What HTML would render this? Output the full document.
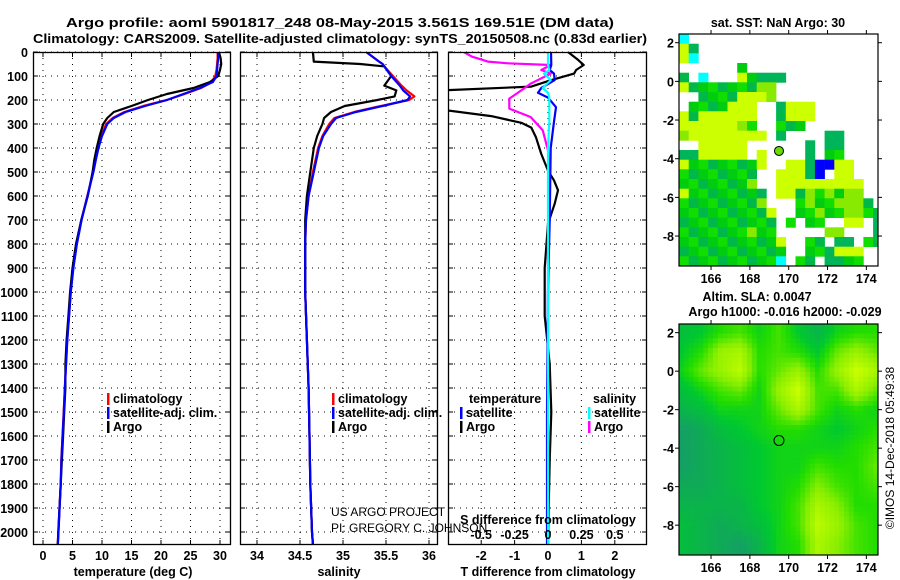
<!DOCTYPE html>
<html><head><meta charset="utf-8">
<style>
html,body{margin:0;padding:0;background:#fff;}
svg{display:block;font-family:"Liberation Sans",Arial,sans-serif;}
.b{font-weight:bold;font-size:13px;}
.t{font-weight:bold;font-size:12.5px;}
</style></head>
<body>
<svg id="fig" width="900" height="580" viewBox="0 0 900 580" xmlns="http://www.w3.org/2000/svg">
<rect x="0" y="0" width="900" height="580" fill="#fff"/>
<text class="b" x="340" y="27" text-anchor="middle" font-size="14" textLength="548" lengthAdjust="spacingAndGlyphs">Argo profile: aoml 5901817_248 08-May-2015 3.561S 169.51E (DM data)</text>
<text class="b" x="340" y="43" text-anchor="middle" font-size="14" textLength="614" lengthAdjust="spacingAndGlyphs">Climatology: CARS2009. Satellite-adjusted climatology: synTS_20150508.nc (0.83d earlier)</text>
<g id="g"></g>
</svg>
<script>
// ---------- profile data ----------
const depthT = [0,25,50,75,100,125,150,175,200,225,250,275,300,350,400,450,500,600,700,800,900,1000,1100,1200,1300,1400,1500,1600,1700,1800,1900,2000,2050];
const climTemp = [29.6,29.6,29.5,29.4,29.2,28.6,26.8,24,21,17,13.8,11.8,10.7,9.9,9.3,8.9,8.5,7.5,6.5,5.7,5.1,4.7,4.4,4.1,3.9,3.7,3.5,3.3,3.1,3.0,2.8,2.6,2.5];
const satTemp  = [29.7,29.7,29.6,29.5,29.4,28.8,26.6,23.8,21,17.3,14.0,12.0,10.9,10.0,9.4,8.95,8.55,7.55,6.55,5.75,5.15,4.72,4.42,4.12,3.92,3.72,3.52,3.32,3.12,3.02,2.82,2.62,2.52];
const argoTemp = [29.8,30.1,30.2,30.0,29.7,28.3,25.5,21,17.8,15,12,10.9,10.2,9.6,9.1,8.7,8.4,7.6,6.5,5.6,5.0,4.6,4.3,4.0,3.8,3.8,3.6,3.4,3.2,3.0,2.8,2.6,2.5];

const depthS = [0,40,50,60,100,140,160,185,200,225,250,275,300,350,400,500,600,700,800,1000,1200,1400,1600,1800,2000,2050];
const climSal = [35.27,35.42,35.46,35.48,35.58,35.68,35.74,35.83,35.77,35.44,35.13,34.9,34.84,34.76,34.71,34.65,34.6,34.57,34.56,34.56,34.58,34.6,34.61,34.62,34.64,34.65];
const satSal  = [35.27,35.42,35.46,35.48,35.56,35.66,35.70,35.78,35.75,35.46,35.15,34.92,34.86,34.77,34.72,34.66,34.6,34.57,34.56,34.56,34.58,34.6,34.61,34.62,34.64,34.65];
const argoSal = [34.65,34.66,35.2,35.48,35.56,35.48,35.62,35.6,35.4,35.02,34.86,34.78,34.76,34.7,34.66,34.62,34.58,34.56,34.56,34.56,34.58,34.6,34.61,34.62,34.64,34.65];

const depthTD = [0,33,54,75,90,117,144,160,175,210,240,267,295,315,356,425,494,535,576,632,715,900,1100,1300,1500,1700,1900,2050];
const argoTdiff = [0.6,0.9,1.07,0.84,0.78,0.1,-0.5,-3.2,-3.5,-3.5,-3.2,-1.7,-0.8,-0.5,-0.36,-0.2,0,0.18,0.3,0.2,0,-0.1,-0.1,0.05,0.1,0.05,0.02,0];
const depthSD = [0,19,40,47,54,75,90,132,160,194,236,271,326,410,535,800,1200,1600,2050];
const argoSdiff = [-0.63,-0.57,-0.45,-0.3,0.02,-0.05,0.02,-0.13,-0.2,-0.29,-0.29,-0.13,-0.04,0,0.01,0,0,0,0];
const depthSat = [0,54,75,90,117,150,170,190,230,290,400,700,1000,1500,2050];
const satTdiff = [0.09,0.1,0.05,0.18,0.2,-0.2,-0.3,0,0.24,0.18,0.08,0.05,0,-0.03,-0.03];
const satSdiff = [0,0,0.01,-0.03,0.02,-0.04,0,0.01,0.01,0.01,0.0,0.0,0.0,0.0,0.0];

const depthTicks = [0,100,200,300,400,500,600,700,800,900,1000,1100,1200,1300,1400,1500,1600,1700,1800,1900,2000];
const tempTicks = [0,5,10,15,20,25,30];
const salTicks = [34,34.5,35,35.5,36];
const tdTicks = [-2,-1,0,1,2];
const sdTicks = [-0.5,-0.25,0,0.25,0.5];

// ---------- map data ----------
const lonTicks = [166,168,170,172,174];
const latTicks = [2,0,-2,-4,-6,-8];
const argoLon = 169.5, argoLat = -3.6;
const sstRows = [
"e....................",
"ca...................",
"ce...................",
"......b..............",
"b.e...cbaaa..........",
"cbbbbbbbdd...........",
"..bbbbcccd...........",
".bbbbccc..accc.......",
"cbcccccc..bccc.......",
"ccccccdb..bbb........",
"dcccccccc.a....aa....",
"..ccccc......a.aa....",
"aaccccc.c....a.bb....",
"cbbbbbbbc..ccaffcc...",
"bbbbbbbb..cccaf.cc...",
"bbbbbbbd..ccccccccc..",
"cbbbbbbba.ccbdbdbdd..",
"bbbbbbbbd...bdbbdddb.",
"bbbbbbbbbc..bbdbbddbb",
"bbbbbbbbbb.b.bb..cc.a",
"bbbbbbbdbb.....dd...a",
"bbbbbbbbbbc..bb.aa.bb",
"bbbbbbbbbbb..bbaccc..",
"bbbbbbbbbbe.bb.aabb.."];
const sstColors = {a:"#00b45a",b:"#00cc10",c:"#ccff00",d:"#88ea00",e:"#00ffff",f:"#0000ff"};
const greenShades = ["#00cc10","#00b84a","#10dd00"];
const slaGrid = [
[0.35,0.4,0.5,0.55,0.45,0.55,0.4,0.3,0.45,0.5,0.5],
[0.4,0.5,0.7,0.75,0.5,0.55,0.5,0.4,0.6,0.7,0.6],
[0.45,0.6,0.7,0.8,0.5,0.6,0.7,0.5,0.7,0.85,0.75],
[0.35,0.45,0.55,0.6,0.45,0.7,0.85,0.55,0.55,0.75,0.6],
[0.3,0.35,0.45,0.45,0.45,0.6,0.75,0.55,0.45,0.5,0.45],
[0.2,0.25,0.35,0.4,0.45,0.5,0.5,0.45,0.4,0.45,0.5],
[0.2,0.25,0.3,0.35,0.4,0.45,0.45,0.45,0.45,0.5,0.55],
[0.2,0.25,0.3,0.35,0.4,0.45,0.45,0.55,0.5,0.5,0.6],
[0.25,0.25,0.3,0.35,0.4,0.45,0.5,0.65,0.55,0.5,0.55],
[0.3,0.3,0.3,0.3,0.4,0.45,0.55,0.75,0.65,0.5,0.5],
[0.35,0.3,0.25,0.3,0.35,0.45,0.55,0.8,0.7,0.55,0.5],
[0.35,0.3,0.25,0.2,0.3,0.45,0.5,0.75,0.65,0.55,0.5]];

// ---------- helpers ----------
const NS = "http://www.w3.org/2000/svg";
const G = document.getElementById("g");
function mk(tag, attrs, parent){ const e=document.createElementNS(NS,tag); for(const k in attrs) e.setAttribute(k,attrs[k]); (parent||G).appendChild(e); return e; }
function txt(s, x, y, cls, anchor, parent){ const e=mk("text",{x:x,y:y,"class":cls,"text-anchor":anchor||"start"},parent); e.textContent=s; return e; }

const Y0=52, Y1=545;
const yD = d => Y0 + d*0.24;
const xT = t => 43 + t*5.9;
const xS = s => 257 + (s-34)*86;
const xDT = v => 548 + v*33.4;
const xDS = v => 548 + v*133.6;

const panels = [
  {name:"temperature-panel", x0:33, x1:231, vx: tempTicks.map(xT)},
  {name:"salinity-panel", x0:240, x1:438, vx: salTicks.map(xS)},
  {name:"difference-panel", x0:448, x1:647, vx: tdTicks.map(xDT)}
];
const defs = mk("defs",{});
panels.forEach((p,i)=>{
  const cp = mk("clipPath",{id:"clip"+i},defs);
  mk("rect",{x:p.x0,y:Y0,width:p.x1-p.x0,height:Y1-Y0},cp);
  const grp = mk("g",{});
  
  
  depthTicks.forEach(d=>{
    const l = mk("line",{x1:p.x0,x2:p.x1,y1:yD(d),y2:yD(d),stroke:"#000","stroke-width":1,"stroke-dasharray":"1,5"},grp);
    
    
    mk("line",{x1:p.x0,x2:p.x0+5,y1:yD(d),y2:yD(d),stroke:"#000"},grp);
    mk("line",{x1:p.x1-5,x2:p.x1,y1:yD(d),y2:yD(d),stroke:"#000"},grp);
  });
  p.vx.forEach(x=>{
    const l = mk("line",{x1:x,x2:x,y1:Y0,y2:Y1,stroke:"#000","stroke-width":1,"stroke-dasharray":"1,5"},grp);
    
    
    mk("line",{x1:x,x2:x,y1:Y1-5,y2:Y1,stroke:"#000"},grp);
    mk("line",{x1:x,x2:x,y1:Y0,y2:Y0+5,stroke:"#000"},grp);
  });
  p.g = mk("g",{"clip-path":"url(#clip"+i+")"},grp);
  const fr = mk("rect",{x:p.x0+0.5,y:Y0+0.5,width:p.x1-p.x0-1,height:Y1-Y0-1,fill:"none",stroke:"#000","stroke-width":1.3},grp);
  
  
});
depthTicks.forEach(d=>{
  const t = txt(String(d), 28, yD(d)+5, "t", "end");
  
  
});
function line(parent, ds, vs, xf, color, name){
  const pts = ds.map((d,i)=>xf(vs[i]).toFixed(1)+","+yD(d).toFixed(1)).join(" ");
  const e = mk("polyline",{points:pts,fill:"none",stroke:color,"stroke-width":2.2,"stroke-linejoin":"round"},parent);
  
  
}
line(panels[0].g, depthT, climTemp, xT, "#ff0000", "climatology-temperature-line");
line(panels[0].g, depthT, argoTemp, xT, "#000000", "argo-temperature-line");
line(panels[0].g, depthT, satTemp, xT, "#0000ff", "satellite-temperature-line");
line(panels[1].g, depthS, climSal, xS, "#ff0000", "climatology-salinity-line");
line(panels[1].g, depthS, argoSal, xS, "#000000", "argo-salinity-line");
line(panels[1].g, depthS, satSal, xS, "#0000ff", "satellite-salinity-line");
line(panels[2].g, depthTD, argoTdiff, xDT, "#000000", "argo-t-difference-line");
line(panels[2].g, depthSD, argoSdiff, xDS, "#ff00ff", "argo-s-difference-line");
line(panels[2].g, depthSat, satTdiff, xDT, "#0000ff", "satellite-t-difference-line");
line(panels[2].g, depthSat, satSdiff, xDS, "#00ffff", "satellite-s-difference-line");

tempTicks.forEach(v=>{ const t=txt(String(v), xT(v), 560, "t", "middle");   });
salTicks.forEach(v=>{ const t=txt(String(v), xS(v), 560, "t", "middle");   });
tdTicks.forEach(v=>{ const t=txt(String(v), xDT(v), 560, "t", "middle");   });
sdTicks.forEach(v=>{ const t=txt(String(v), xDS(v), 539, "t", "middle");   });

let e;
e=txt("temperature (deg C)",133,576,"t","middle");  
e=txt("salinity",339,576,"t","middle");  
e=txt("T difference from climatology",548,576,"t","middle");  
e=txt("S difference from climatology",548,524,"t","middle");  
e=txt("US ARGO PROJECT",331,516,"", "start"); e.setAttribute('font-size','12');  
e=txt("PI: GREGORY C. JOHNSON",331,532,"", "start"); e.setAttribute('font-size','12');  

function legend(x, y, color, label, name){
  const g = mk("g",{});
  
  
  mk("rect",{x:x,y:y-10,width:2.5,height:12,fill:color},g);
  txt(label, x+6, y, "t", "start", g);
}
legend(107,403,"#ff0000","climatology","legend-climatology");
legend(107,417,"#0000ff","satellite-adj. clim.","legend-satellite-adj");
legend(107,431,"#000000","Argo","legend-argo");
legend(332,403,"#ff0000","climatology","legend-climatology-sal");
legend(332,417,"#0000ff","satellite-adj. clim.","legend-satellite-adj-sal");
legend(332,431,"#000000","Argo","legend-argo-sal");
e=txt("temperature",469,403,"t","start");  
e=txt("salinity",593,403,"t","start");  
legend(460,417,"#0000ff","satellite","legend-t-satellite");
legend(460,431,"#000000","Argo","legend-t-argo");
legend(588,417,"#00ffff","satellite","legend-s-satellite");
legend(588,431,"#ff00ff","Argo","legend-s-argo");

// ---------- maps ----------
const LON0=164.35, LON1=174.6, LAT0=2.45, LAT1=-9.55;
function makeMap(top, bottom, name){
  const x0=679, x1=878;
  const mx = lon => x0 + (lon-LON0)/(LON1-LON0)*(x1-x0);
  const my = lat => top + (LAT0-lat)/(LAT0-LAT1)*(bottom-top);
  const g = mk("g",{});
  
  
  return {g,mx,my,x0,x1,top,bottom};
}
function frameMap(m){
  mk("rect",{x:m.x0,y:m.top,width:m.x1-m.x0,height:m.bottom-m.top,fill:"none",stroke:"#000","stroke-width":1.2},m.g);
  lonTicks.forEach(v=>{
    const x=m.mx(v);
    mk("line",{x1:x,x2:x,y1:m.bottom,y2:m.bottom+4,stroke:"#000"},m.g);
    mk("line",{x1:x,x2:x,y1:m.top,y2:m.top-4,stroke:"#000"},m.g);
    const t=txt(String(v),x,m.bottom+17,"t","middle",m.g);
     
  });
  latTicks.forEach(v=>{
    const y=m.my(v);
    mk("line",{x1:m.x0,x2:m.x0-4,y1:y,y2:y,stroke:"#000"},m.g);
    mk("line",{x1:m.x1,x2:m.x1+4,y1:y,y2:y,stroke:"#000"},m.g);
    const t=txt(String(v),m.x0-5,y+5,"t","end",m.g);
     
  });
}
const m1 = makeMap(34, 266, "sst-map");
sstRows.forEach((row,r)=>{
  for(let c=0;c<row.length;c++){
    const ch=row[c]; if(ch==='.') continue;
    const lonA=LON0+c*0.5, latA=LAT0-r*0.5;
    const x=m1.mx(lonA), y=m1.my(latA);
    const w=m1.mx(Math.min(lonA+0.5,LON1))-x, h=m1.my(latA-0.5)-y;
    const fill = ch==='b' ? greenShades[(r+c*2)%3] : sstColors[ch];
    const cell=mk("rect",{x:x.toFixed(1),y:y.toFixed(1),width:(w+0.3).toFixed(1),height:(h+0.3).toFixed(1),fill:fill},m1.g);
    
    
  }
});
frameMap(m1);
e=mk("circle",{cx:m1.mx(argoLon),cy:m1.my(argoLat),r:4.5,fill:"#66dd00",stroke:"#000","stroke-width":1},m1.g);
 
e=txt("sat. SST: NaN Argo: 30",778,27,"t","middle");  

const m2 = makeMap(324, 555, "sla-map");
function slaColor(v){
  const stops=[[0.2,[20,160,100]],[0.4,[0,200,48]],[0.5,[34,221,0]],[0.65,[136,238,0]],[0.85,[204,255,0]]];
  if(v<=stops[0][0]) return "rgb("+stops[0][1]+")";
  for(let i=1;i<stops.length;i++){
    if(v<=stops[i][0]){
      const f=(v-stops[i-1][0])/(stops[i][0]-stops[i-1][0]);
      const a=stops[i-1][1], b=stops[i][1];
      return "rgb("+a.map((q,k)=>Math.round(q+(b[k]-q)*f)).join(",")+")";
    }
  }
  return "rgb("+stops[stops.length-1][1]+")";
}
const nr=slaGrid.length, nc=slaGrid[0].length;
function slaAt(lon,lat){
  let fx=Math.max(0,Math.min(nc-1,lon-164.5)), fy=Math.max(0,Math.min(nr-1,2-lat));
  const i0=Math.floor(fx), j0=Math.floor(fy), i1=Math.min(nc-1,i0+1), j1=Math.min(nr-1,j0+1);
  const tx=fx-i0, ty=fy-j0;
  return slaGrid[j0][i0]*(1-tx)*(1-ty)+slaGrid[j0][i1]*tx*(1-ty)+slaGrid[j1][i0]*(1-tx)*ty+slaGrid[j1][i1]*tx*ty;
}
const step=0.25;
for(let lat=LAT0; lat>LAT1; lat-=step){
  for(let lon=LON0; lon<LON1; lon+=step){
    const x=m2.mx(lon), y=m2.my(lat), w=m2.mx(Math.min(lon+step,LON1))-x, h=m2.my(lat-step)-y;
    const cell=mk("rect",{x:x.toFixed(1),y:y.toFixed(1),width:(w+0.4).toFixed(1),height:(h+0.4).toFixed(1),fill:slaColor(slaAt(lon+step/2,lat-step/2))},m2.g);
    
    
  }
}
frameMap(m2);
e=mk("circle",{cx:m2.mx(argoLon),cy:m2.my(argoLat),r:5,fill:"none",stroke:"#000","stroke-width":1},m2.g);
 
e=txt("Altim. SLA: 0.0047",757,301,"t","middle");  
e=txt("Argo h1000: -0.016 h2000: -0.029",785,316,"t","middle");  
e=txt("©IMOS 14-Dec-2018 05:49:38",0,0,"","middle");
e.setAttribute('font-size','12');
e.setAttribute('transform','translate(894,448) rotate(-90)');
 
</script>
</body></html>
